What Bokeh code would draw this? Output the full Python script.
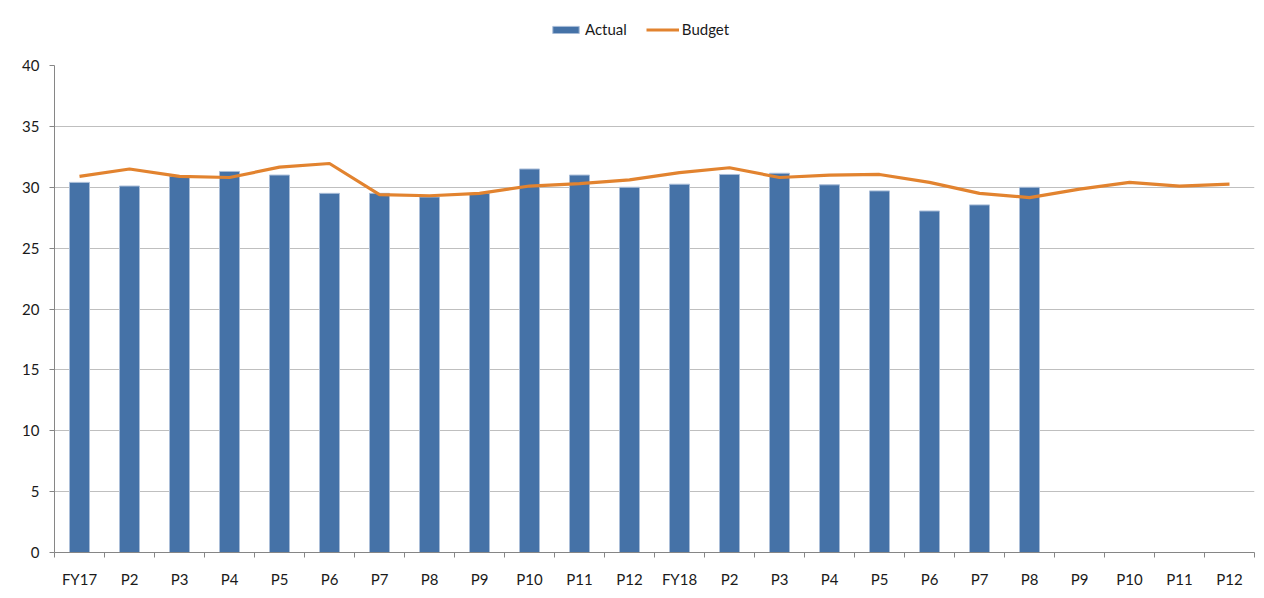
from bokeh.plotting import figure
from bokeh.layouts import column
from bokeh.models import FixedTicker, Range1d, Legend, LegendItem, ColumnDataSource
from bokeh.embed import file_html
from bokeh.resources import INLINE

categories = ["FY17", "P2", "P3", "P4", "P5", "P6", "P7", "P8", "P9", "P10", "P11", "P12",
              "FY18", "P2", "P3", "P4", "P5", "P6", "P7", "P8", "P9", "P10", "P11", "P12"]
actual = [30.4, 30.1, 30.9, 31.3, 31.0, 29.5, 29.5, 29.2, 29.5, 31.5, 31.0, 30.0,
          30.25, 31.05, 31.15, 30.2, 29.7, 28.05, 28.55, 30.0]
budget = [30.9, 31.5, 30.9, 30.8, 31.65, 31.95, 29.4, 29.3, 29.5, 30.1, 30.3, 30.6,
          31.2, 31.6, 30.8, 31.0, 31.05, 30.4, 29.5, 29.15, 29.85, 30.4, 30.1, 30.25]
y_ticks = [0, 5, 10, 15, 20, 25, 30, 35, 40]

FONT = "Lato"
TXT = "#1a1a1a"
BAR_FILL = "#4572A7"
BAR_LINE = "#A9BDD8"
LINE_COL = "#E2832F"

n = len(categories)
centers = [i + 0.5 for i in range(n)]

p = figure(width=1256, height=540, output_backend="svg", toolbar_location=None,
           x_range=Range1d(0, n), y_range=Range1d(0, 40),
           min_border_left=54, min_border_right=2, min_border_top=15, min_border_bottom=35)
p.outline_line_color = None
p.background_fill_color = "white"
p.border_fill_color = "white"

bar_src = ColumnDataSource(dict(x=centers[:len(actual)], top=actual))
p.vbar(x="x", top="top", width=0.4, bottom=0, source=bar_src,
       fill_color=BAR_FILL, line_color=BAR_LINE, line_width=1)
line_src = ColumnDataSource(dict(x=centers[:len(budget)], y=budget))
p.line(x="x", y="y", source=line_src, line_color=LINE_COL, line_width=3.2)

# y axis
p.yaxis.ticker = FixedTicker(ticks=y_ticks)
p.yaxis.axis_line_color = "#868686"
p.yaxis.major_tick_line_color = "#868686"
p.yaxis.major_tick_out = 5
p.yaxis.major_tick_in = 0
p.yaxis.minor_tick_line_color = None
p.yaxis.major_label_text_font = FONT
p.yaxis.major_label_text_font_size = "15px"
p.yaxis.major_label_text_color = TXT
p.yaxis.major_label_standoff = 10

# x axis: labels at category centres, ticks at boundaries
p.xaxis.ticker = FixedTicker(ticks=centers, minor_ticks=list(range(n + 1)))
p.xaxis.major_label_overrides = {c: lab for c, lab in zip(centers, categories)}
p.xaxis.axis_line_color = "#868686"
p.xaxis.major_tick_line_color = None
p.xaxis.major_tick_out = 0
p.xaxis.major_tick_in = 0
p.xaxis.minor_tick_line_color = "#868686"
p.xaxis.minor_tick_out = 5
p.xaxis.minor_tick_in = 0
p.xaxis.major_label_text_font = FONT
p.xaxis.major_label_text_font_size = "15px"
p.xaxis.major_label_text_color = TXT
p.xaxis.major_label_standoff = 12

p.xgrid.grid_line_color = None
p.ygrid.ticker = FixedTicker(ticks=y_ticks)
p.ygrid.grid_line_color = "#BFBFBF"
p.ygrid.grid_line_width = 1

# legend strip above the plot (same series, drawn below its visible range; only the legend shows)
lg = figure(width=1256, height=50, output_backend="svg", toolbar_location=None,
            x_axis_type=None, y_axis_type=None, x_range=Range1d(0, n), y_range=Range1d(1000, 1001),
            min_border_left=0, min_border_right=0, min_border_top=0, min_border_bottom=0)
lg.outline_line_color = None
lg.xgrid.visible = False
lg.ygrid.visible = False
r_bar = lg.vbar(x="x", top="top", width=0.4, bottom=0, source=bar_src,
                fill_color=BAR_FILL, line_color=BAR_LINE, line_width=1)
r_line = lg.line(x="x", y="y", source=line_src, line_color=LINE_COL, line_width=3.2)

legend = Legend(items=[LegendItem(label="Actual", renderers=[r_bar]),
                       LegendItem(label="Budget", renderers=[r_line])],
                orientation="horizontal", location=(495, 12))
legend.border_line_color = None
legend.background_fill_alpha = 0
legend.padding = 0
legend.margin = 0
legend.spacing = 19
legend.glyph_width = 33
legend.glyph_height = 9
legend.label_standoff = 3
legend.label_text_font = FONT
legend.label_text_font_size = "15px"
legend.label_text_color = TXT
legend.label_height = 16
lg.add_layout(legend, "center")

layout = column(lg, p, spacing=0)
open("out.html", "w").write(file_html(layout, INLINE))
